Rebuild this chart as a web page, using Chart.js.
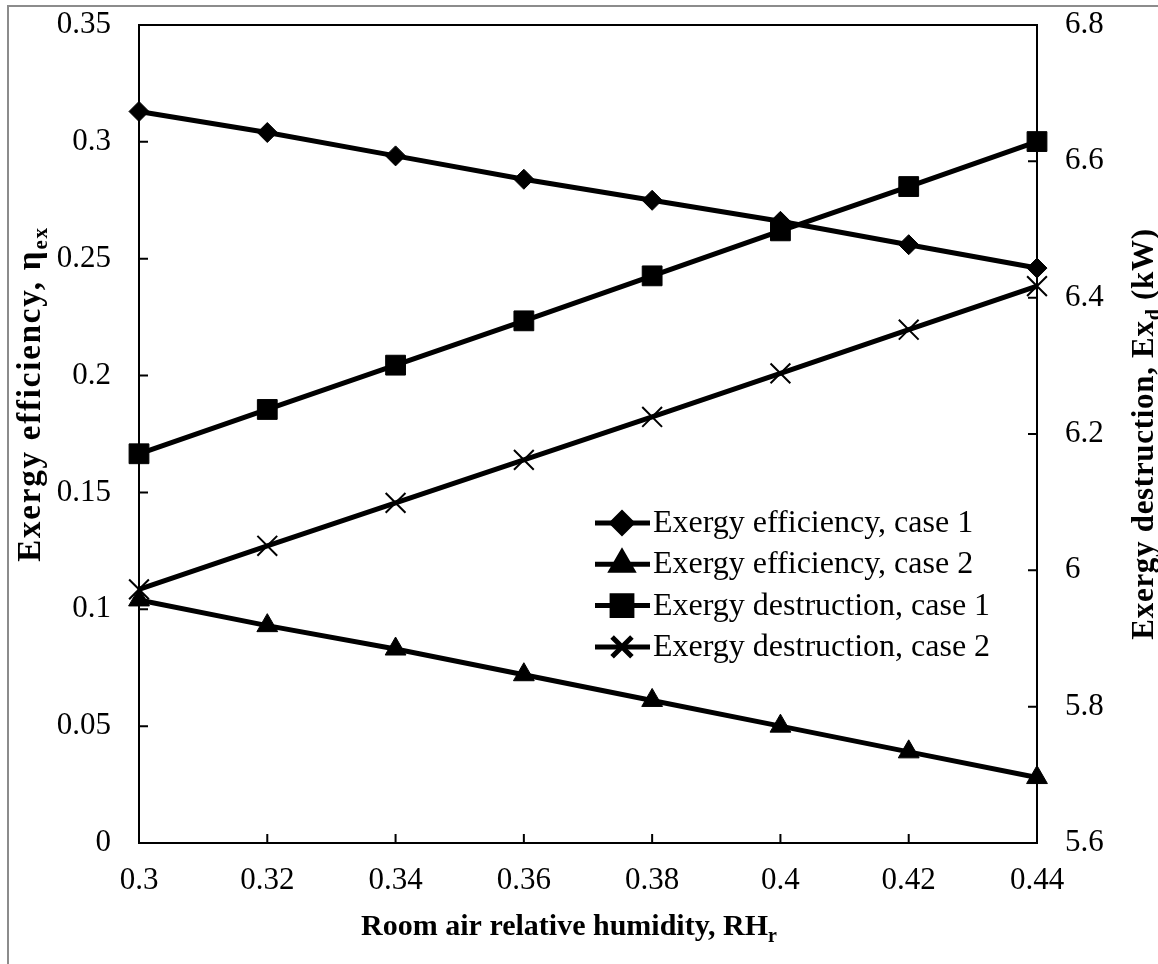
<!DOCTYPE html>
<html>
<head>
<meta charset="utf-8">
<script src="https://cdn.jsdelivr.net/npm/chart.js@4.4.0/dist/chart.umd.min.js"></script>
<style>
  html, body { margin: 0; padding: 0; background: #fff; }
  #wrap { position: relative; width: 1158px; height: 964px; overflow: hidden; }
  #frame { position: absolute; left: 7px; top: 5px; width: 1200px; height: 1000px; border-left: 2px solid #8c8c8c; border-top: 2px solid #8c8c8c; }
  canvas { position: absolute; left: 0; top: 0; }
</style>
</head>
<body>
<div id="wrap">
  <div id="frame"></div>
  <canvas id="myChart" width="1158" height="964"></canvas>
</div>
<script>
// room air relative humidity (x axis)
const humidity = [0.3, 0.32, 0.34, 0.36, 0.38, 0.4, 0.42, 0.44];

// left axis: exergy efficiency
const efficiencyCase1 = [0.313, 0.304, 0.294, 0.284, 0.275, 0.266, 0.256, 0.246];
const efficiencyCase2 = [0.104, 0.093, 0.083, 0.072, 0.061, 0.050, 0.039, 0.028];

// right axis: exergy destruction (kW)
const destructionCase1 = [6.171, 6.236, 6.301, 6.366, 6.432, 6.498, 6.563, 6.629];
const destructionCase2 = [5.972, 6.036, 6.099, 6.162, 6.225, 6.289, 6.353, 6.417];

// tick labels
const efficiencyTicks = [0, 0.05, 0.1, 0.15, 0.2, 0.25, 0.3, 0.35];
const destructionTicks = [5.6, 5.8, 6, 6.2, 6.4, 6.6, 6.8];

const serif = "'Liberation Serif', 'Times New Roman', serif";

const legendItems = [
  { text: "Exergy efficiency, case 1", style: "rectRot", radius: 10, border: 1 },
  { text: "Exergy efficiency, case 2", style: "triangle", radius: 12, border: 1 },
  { text: "Exergy destruction, case 1", style: "rect", radius: 14, border: 1 },
  { text: "Exergy destruction, case 2", style: "crossRot", radius: 14, border: 2 },
];

// draws text made of normal and subscript parts, centred on x
function drawRich(ctx, parts, x, y, size, spacing) {
  ctx.letterSpacing = (spacing || 0) + "px";
  let total = 0;
  parts.forEach((p) => {
    ctx.font = "bold " + (p.sub ? Math.round(size * 0.65) : size) + "px " + serif;
    p.w = ctx.measureText(p.t).width;
    total += p.w;
  });
  let cx = x - total / 2;
  parts.forEach((p) => {
    ctx.font = "bold " + (p.sub ? Math.round(size * 0.65) : size) + "px " + serif;
    ctx.fillText(p.t, cx, p.sub ? y + size * 0.22 : y);
    cx += p.w;
  });
  ctx.letterSpacing = "0px";
}

const framePlugin = {
  id: "frame",
  beforeDatasetsDraw(chart) {
    const ctx = chart.ctx;
    const a = chart.chartArea;
    ctx.save();
    ctx.strokeStyle = "#000";
    ctx.lineWidth = 2;
    ctx.strokeRect(a.left, a.top, a.right - a.left, a.bottom - a.top);

    // inward tick marks
    const len = 9;
    ctx.beginPath();
    chart.scales.x.ticks.forEach((t, i) => {
      const px = chart.scales.x.getPixelForTick(i);
      ctx.moveTo(px, a.bottom);
      ctx.lineTo(px, a.bottom - len);
    });
    chart.scales.y.ticks.forEach((t) => {
      const py = chart.scales.y.getPixelForValue(t.value);
      ctx.moveTo(a.left, py);
      ctx.lineTo(a.left + len, py);
    });
    chart.scales.y1.ticks.forEach((t) => {
      const py = chart.scales.y1.getPixelForValue(t.value);
      ctx.moveTo(a.right, py);
      ctx.lineTo(a.right - len, py);
    });
    ctx.stroke();
    ctx.restore();
  },
  afterDraw(chart) {
    const ctx = chart.ctx;
    ctx.save();
    ctx.fillStyle = "#000";
    ctx.textBaseline = "alphabetic";
    ctx.textAlign = "left";

    // axis titles
    drawRich(ctx, [{ t: "Room air relative humidity, RH" }, { t: "r", sub: true }], 569, 935, 30, 0);

    ctx.save();
    ctx.translate(40, 394);
    ctx.rotate(-Math.PI / 2);
    drawRich(ctx, [{ t: "Exergy efficiency, \u03b7" }, { t: "ex", sub: true }], 0, 0, 33, 1.8);
    ctx.restore();

    ctx.save();
    ctx.translate(1153, 434);
    ctx.rotate(-Math.PI / 2);
    drawRich(ctx, [{ t: "Exergy destruction, Ex" }, { t: "d", sub: true }, { t: " (kW)" }], 0, 0, 31, 0.7);
    ctx.restore();

    // legend
    ctx.font = "32px " + serif;
    ctx.strokeStyle = "#000";
    legendItems.forEach((item, i) => {
      const base = 532 + i * 41.3;
      const my = base - 9;
      ctx.lineWidth = 5;
      ctx.beginPath();
      ctx.moveTo(595, my);
      ctx.lineTo(650, my);
      ctx.stroke();
      Chart.helpers.drawPoint(ctx, { pointStyle: item.style, radius: item.radius, borderWidth: item.border, rotation: 0 }, 622, my);
      ctx.fillText(item.text, 653, base);
    });
    ctx.restore();
  },
};

function series(label, data, axis, style, radius, border) {
  return {
    label: label,
    data: data,
    yAxisID: axis,
    borderColor: "#000",
    backgroundColor: "#000",
    borderWidth: 5,
    pointStyle: style,
    pointRadius: radius,
    pointBorderWidth: border,
    pointBackgroundColor: "#000",
    pointBorderColor: "#000",
    tension: 0,
    clip: false,
  };
}

const inputs = {
  labels: humidity.map(String),
  datasets: [
    series("Exergy efficiency, case 1", efficiencyCase1, "y", "rectRot", 10, 1),
    series("Exergy efficiency, case 2", efficiencyCase2, "y", "triangle", 12, 1),
    series("Exergy destruction, case 1", destructionCase1, "y1", "rect", 14, 1),
    series("Exergy destruction, case 2", destructionCase2, "y1", "crossRot", 14, 2),
  ],
};

const tickFont = { family: serif, size: 31 };
const noGrid = { display: false, drawTicks: false };

const config = {
  type: "line",
  data: inputs,
  options: {
    responsive: false,
    animation: false,
    events: [],
    layout: { padding: { top: 25, left: 0, right: 0, bottom: 0 } },
    plugins: {
      legend: { display: false },
      tooltip: { enabled: false },
    },
    scales: {
      x: {
        type: "category",
        offset: false,
        grid: noGrid,
        border: { display: false },
        ticks: { font: tickFont, color: "#000", padding: 19, maxRotation: 0, autoSkip: false },
        afterFit(scale) {
          scale.height = 121;
          scale.paddingLeft = 0;
          scale.paddingRight = 0;
        },
      },
      y: {
        position: "left",
        min: 0,
        max: 0.35,
        grid: noGrid,
        border: { display: false },
        afterBuildTicks(scale) {
          scale.ticks = efficiencyTicks.map((v) => ({ value: v }));
        },
        ticks: {
          font: tickFont,
          color: "#000",
          padding: 28,
          callback: (v) => String(Number(v.toFixed(2))),
        },
        afterFit(scale) {
          scale.width = 139;
          scale.paddingTop = 0;
          scale.paddingBottom = 0;
        },
      },
      y1: {
        position: "right",
        min: 5.6,
        max: 6.8,
        grid: noGrid,
        border: { display: false },
        afterBuildTicks(scale) {
          scale.ticks = destructionTicks.map((v) => ({ value: v }));
        },
        ticks: {
          font: tickFont,
          color: "#000",
          padding: 28,
          callback: (v) => String(Number(v.toFixed(1))),
        },
        afterFit(scale) {
          scale.width = 121;
          scale.paddingTop = 0;
          scale.paddingBottom = 0;
        },
      },
    },
  },
  plugins: [framePlugin],
};

var myChart = new Chart(document.getElementById("myChart"), config);
</script>
</body>
</html>
